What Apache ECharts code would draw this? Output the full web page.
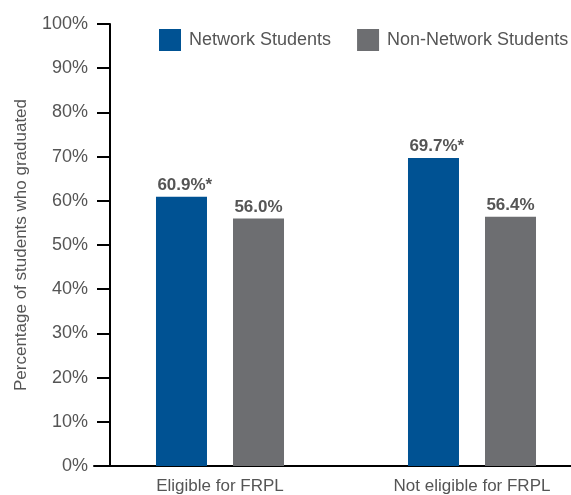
<!DOCTYPE html>
<html>
<head>
<meta charset="utf-8">
<script src="https://cdn.jsdelivr.net/npm/echarts@6/dist/echarts.min.js"></script>
<style>
html,body{margin:0;padding:0;background:#fff;}
#chart{width:571px;height:495px;}
</style>
</head>
<body>
<div id="chart"></div>
<script>
var categories = ['Eligible for FRPL', 'Not eligible for FRPL'];
var networkValues = [60.9, 69.7];
var nonNetworkValues = [56.0, 56.4];
var networkSignificant = [true, true];
var nonNetworkSignificant = [false, false];
var yTickValues = [0, 10, 20, 30, 40, 50, 60, 70, 80, 90, 100];
var seriesNames = ['Network Students', 'Non-Network Students'];

var FONT = '"Liberation Sans", Arial, sans-serif';
var TXT = '#555555';

function makeLabel(sigArr) {
  return {
    show: true,
    position: 'top',
    distance: 3,
    formatter: function (p) {
      var t = p.value.toFixed(1) + '%';
      return sigArr[p.dataIndex] ? '{p|*}{v|' + t + '}{s|*}' : '{v|' + t + '}';
    },
    rich: {
      v: { fontFamily: FONT, fontSize: 17, fontWeight: 'bold', color: TXT },
      s: { fontFamily: FONT, fontSize: 17, fontWeight: 'bold', color: TXT },
      p: { fontFamily: FONT, fontSize: 17, fontWeight: 'bold', color: 'rgba(0,0,0,0)' }
    }
  };
}

var chart = echarts.init(document.getElementById('chart'), null, { renderer: 'canvas' });
chart.setOption({
  animation: false,
  backgroundColor: '#ffffff',
  legend: {
    data: seriesNames,
    left: 159,
    top: 29,
    padding: 0,
    width: 420,
    orient: 'horizontal',
    itemWidth: 22,
    itemHeight: 22,
    itemGap: 26,
    icon: 'rect',
    textStyle: { fontFamily: FONT, fontSize: 18, color: TXT, padding: [0, 0, 0, 3] }
  },
  grid: { left: 94, width: 504, top: 24, bottom: 29, containLabel: false, outerBoundsMode: 'none' },
  xAxis: {
    type: 'category',
    data: categories,
    axisLine: { lineStyle: { color: '#000', width: 2 } },
    axisTick: { show: false },
    axisLabel: { fontFamily: FONT, fontSize: 17, color: TXT, margin: 12 }
  },
  yAxis: {
    type: 'value',
    min: yTickValues[0],
    max: yTickValues[yTickValues.length - 1],
    interval: 10,
    offset: -16,
    name: 'Percentage of students who graduated',
    nameLocation: 'middle',
    nameRotate: 90,
    nameGap: 80,
    nameTextStyle: { fontFamily: FONT, fontSize: 17, color: TXT },
    axisLine: { show: true, lineStyle: { color: '#000', width: 2 } },
    axisTick: { show: true, length: 13, lineStyle: { color: '#000', width: 2 } },
    axisLabel: { fontFamily: FONT, fontSize: 18, color: TXT, margin: 22, formatter: '{value}%' },
    splitLine: { show: false }
  },
  series: [
    {
      name: seriesNames[0],
      type: 'bar',
      data: networkValues,
      barWidth: 51,
      barGap: '51%',
      itemStyle: { color: '#005293' },
      label: makeLabel(networkSignificant)
    },
    {
      name: seriesNames[1],
      type: 'bar',
      data: nonNetworkValues,
      barWidth: 51,
      itemStyle: { color: '#6d6e71' },
      label: makeLabel(nonNetworkSignificant)
    }
  ]
});
</script>
</body>
</html>
